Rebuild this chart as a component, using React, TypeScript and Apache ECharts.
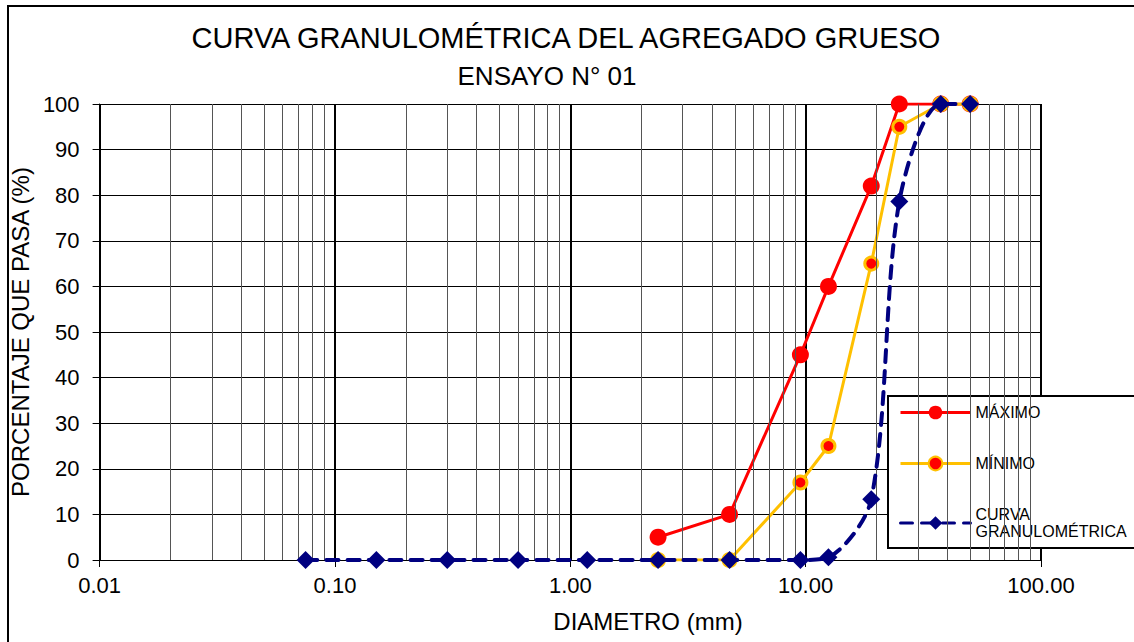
import React, { useEffect, useRef } from 'react';
import * as echarts from 'echarts';

const FONT = '"Liberation Sans", Arial, sans-serif';

const titleText = 'CURVA GRANULOMÉTRICA DEL AGREGADO GRUESO';
const subtitleText = 'ENSAYO N° 01';
const xAxisTitle = 'DIAMETRO (mm)';
const yAxisTitle = 'PORCENTAJE QUE PASA (%)';

const seriesNames = ['MÁXIMO', 'MÍNIMO', 'CURVA\nGRANULOMÉTRICA'];

// Specification limits (sieve sizes in mm)
const limitSizes = [2.36, 4.75, 9.5, 12.5, 19, 25, 37.5, 50];
const maxValues = [5, 10, 45, 60, 82, 100, 100, 100];
const minValues = [0, 0, 17, 25, 65, 95, 100, 100];

// Gradation curve
const curveSizes = [0.075, 0.15, 0.3, 0.6, 1.18, 2.36, 4.75, 9.5, 12.5, 19, 25, 37.5, 50];
const curveValues = [0, 0, 0, 0, 0, 0, 0, 0, 0.6, 13.3, 78.6, 100, 100];

// Minor logarithmic grid lines
const minorGrid = [
  0.02, 0.03, 0.04, 0.05, 0.06, 0.07, 0.08, 0.09,
  0.2, 0.3, 0.4, 0.5, 0.6, 0.7, 0.8, 0.9,
  2, 3, 4, 5, 6, 7, 8, 9,
  20, 30, 40, 50, 60, 70, 80, 90,
];

const xMin = 0.01;
const xMax = 100;
const yMin = 0;
const yMax = 100;
const yInterval = 10;

export default function App() {
  const ref = useRef<HTMLDivElement>(null);

  useEffect(() => {
    if (!ref.current) return;
    const chart = echarts.init(ref.current, undefined, { renderer: 'svg' });
    const pair = (xs: number[], ys: number[]) => xs.map((x, i) => [x, ys[i]]);

    chart.setOption({
      animation: false,
      backgroundColor: '#fff',
      title: [
        {
          text: titleText,
          left: 561,
          textAlign: 'center',
          top: 18,
          textStyle: { fontSize: 29, fontWeight: 'normal', fontFamily: FONT, color: '#000' },
        },
        {
          text: subtitleText,
          left: 542,
          textAlign: 'center',
          top: 58,
          textStyle: { fontSize: 26, fontWeight: 'normal', fontFamily: FONT, color: '#000' },
        },
      ],
      grid: { left: 95, right: 93, top: 104, bottom: 82, containLabel: false },
      legend: {
        orient: 'vertical',
        left: 888,
        top: 396,
        padding: [8, 9, 8, 11],
        itemWidth: 70,
        itemHeight: 17,
        itemGap: 34,
        borderColor: '#000',
        borderWidth: 2,
        borderRadius: 0,
        backgroundColor: '#fff',
        lineStyle: { width: 3 },
        textStyle: { fontSize: 16, lineHeight: 17, fontFamily: FONT, color: '#000' },
        data: seriesNames,
      },
      xAxis: {
        type: 'log',
        logBase: 10,
        min: xMin,
        max: xMax,
        axisLine: { show: true, lineStyle: { color: '#000', width: 1 } },
        axisTick: { show: true, length: 7, lineStyle: { color: '#000' } },
        axisLabel: {
          formatter: (v: number) => Number(v).toFixed(2),
          fontSize: 22,
          color: '#000',
          fontFamily: FONT,
          margin: 14,
        },
        splitLine: { show: true, lineStyle: { color: '#000', width: 2 } },
      },
      yAxis: {
        type: 'value',
        min: yMin,
        max: yMax,
        interval: yInterval,
        name: yAxisTitle,
        nameLocation: 'middle',
        nameGap: 52,
        nameTextStyle: { fontSize: 24, fontFamily: FONT, color: '#000' },
        axisLine: { show: true, lineStyle: { color: '#000', width: 1 } },
        axisTick: { show: true, length: 7, lineStyle: { color: '#000' } },
        axisLabel: { fontSize: 22, color: '#000', fontFamily: FONT, margin: 20 },
        splitLine: { show: true, lineStyle: { color: '#000', width: 1 } },
      },
      graphic: [
        {
          type: 'rect',
          z: -10,
          silent: true,
          shape: { x: 8, y: 6, width: 1200, height: 700 },
          style: { fill: 'none', stroke: '#000', lineWidth: 2 },
        },
        {
          type: 'text',
          x: 648,
          y: 621,
          style: {
            text: xAxisTitle,
            fontSize: 24,
            fontFamily: FONT,
            fill: '#000',
            textAlign: 'center',
            textVerticalAlign: 'middle',
          },
        },
      ],
      series: [
        {
          name: '__grid',
          type: 'line',
          data: [],
          z: 1,
          silent: true,
          markLine: {
            silent: true,
            symbol: 'none',
            label: { show: false },
            lineStyle: { color: '#555', width: 1, type: 'solid' },
            emphasis: { disabled: true },
            data: minorGrid.map((v) => ({ xAxis: v })),
          },
        },
        {
          name: seriesNames[0],
          type: 'line',
          data: pair(limitSizes, maxValues),
          symbol: 'circle',
          symbolSize: 17,
          lineStyle: { color: '#FF0000', width: 3 },
          itemStyle: { color: '#FF0000' },
          z: 3,
        },
        {
          name: seriesNames[1],
          type: 'line',
          data: pair(limitSizes, minValues),
          symbol: 'circle',
          symbolSize: 13,
          lineStyle: { color: '#FFC000', width: 3 },
          itemStyle: { color: '#FF0000', borderColor: '#FFC000', borderWidth: 3 },
          z: 4,
        },
        {
          name: seriesNames[2],
          type: 'line',
          data: pair(curveSizes, curveValues),
          symbol: 'diamond',
          symbolSize: 18,
          smooth: 0.3,
          lineStyle: { color: '#000080', width: 4, type: [12, 9], cap: 'round' },
          itemStyle: { color: '#000080' },
          z: 5,
        },
      ],
    });
    return () => chart.dispose();
  }, []);

  return (
    <div
      ref={ref}
      style={{ position: 'absolute', left: 0, top: 0, width: 1134, height: 642, background: '#fff' }}
    />
  );
}
